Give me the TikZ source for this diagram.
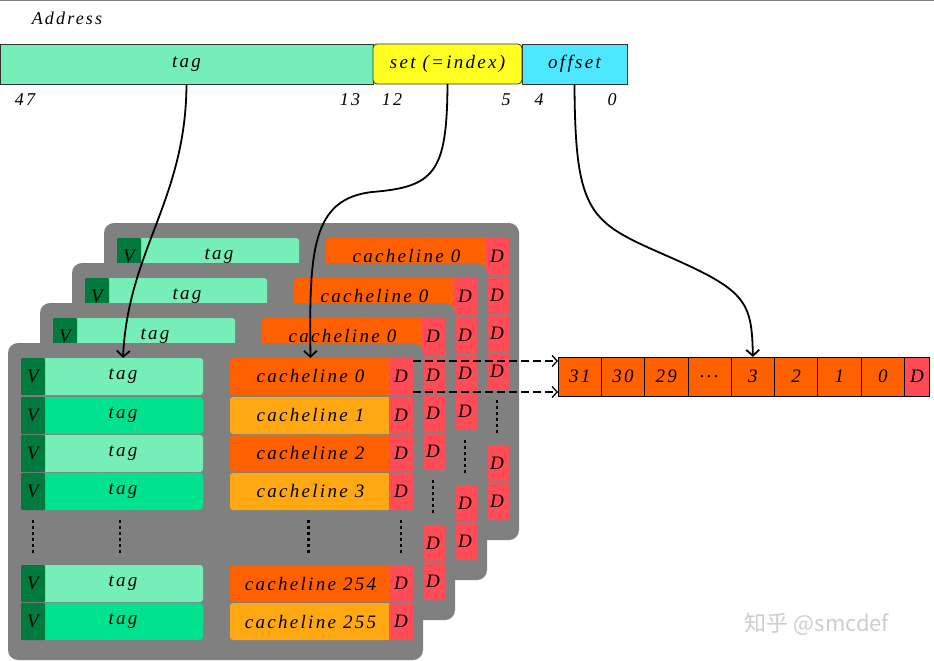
\documentclass[tikz,border=0pt]{standalone}
\usepackage{fontspec}
\newfontfamily\hand[LetterSpace=12]{Liberation Serif}
\newfontfamily\cjk{Noto Sans CJK SC}
\usetikzlibrary{arrows.meta}
\definecolor{panelgray}{RGB}{128,128,128}
\definecolor{vgreen}{RGB}{0,122,61}
\definecolor{taglight}{RGB}{118,238,183}
\definecolor{tagbright}{RGB}{0,226,142}
\definecolor{clred}{RGB}{255,96,0}
\definecolor{clamber}{RGB}{255,168,18}
\definecolor{dred}{RGB}{255,75,85}
\definecolor{setyellow}{RGB}{255,255,34}
\definecolor{offcyan}{RGB}{77,232,255}
\definecolor{wmgray}{RGB}{205,205,205}
\begin{document}
\begin{tikzpicture}[x=1pt,y=-1pt,
  every node/.style={font=\hand\itshape\fontsize{19}{22}\selectfont, inner sep=0pt, outer sep=0pt},
  panel/.style={anchor=north west, fill=panelgray, rounded corners=10pt, minimum width=415pt, minimum height=317pt},
  cellbase/.style={anchor=north west, minimum height=37pt, rounded corners=3pt},
  abar/.style={anchor=north west, minimum height=40pt, draw=black!80, line width=0.8pt},
  acell/.style={anchor=north west, minimum height=39pt, minimum width=43.3pt, fill=clred, draw=black, line width=0.8pt},
  numlab/.style={font=\hand\itshape\fontsize{18}{21}\selectfont},
  dotcol/.style={line width=2.4pt, dash pattern=on 2.5pt off 3.5pt, shorten <=10pt, shorten >=10pt},
  arr/.style={line width=1.8pt, -{Straight Barb[length=6pt,width=13pt]}},
  dasharr/.style={line width=1.3pt, dash pattern=on 8pt off 4pt, -{Straight Barb[length=5pt,width=11pt]}}]
\useasboundingbox (0,0) rectangle (934,661);
\draw[panelgray, line width=1pt] (0,0.5) -- (934,0.5);

% address
\node[numlab] (addr) at (67,18) {Address};
\node[abar, fill=taglight, minimum width=373pt] (atag) at (0,44) {tag};
\node[abar, fill=setyellow, minimum width=149pt, rounded corners=4pt] (aset) at (373,44) {set (=index)};
\node[abar, fill=offcyan, minimum width=105pt] (aoff) at (522,44) {offset};
\node[numlab] (n47) at (25,100) {47};
\node[numlab] (n13) at (350,100) {13};
\node[numlab] (n12) at (392,100) {12};
\node[numlab] (n5) at (506,100) {5};
\node[numlab] (n4) at (539,100) {4};
\node[numlab] (n0) at (612,100) {0};

% cache ways (back to front)
\foreach \L in {3,2,1,0} {
  \begin{scope}[shift={(32*\L,-40*\L)}]
    \node[panel] (P-\L) at (8,343) {};
    \foreach \r/\top/\tagc/\clc/\lab in {0/358/taglight/clred/0, 1/397/tagbright/clamber/1, 2/435/taglight/clred/2, 3/473/tagbright/clamber/3, 4/565/taglight/clred/254, 5/603/tagbright/clamber/255} {
      \ifnum\numexpr\L*\r\relax=0
        \def\mytag{tag}\def\myv{V}\def\mycl{cacheline \lab}%
      \else
        \def\mytag{}\def\myv{}\def\mycl{}%
      \fi
      \node[cellbase, fill=\tagc, minimum width=160pt] (T-\L-\r) at (43,\top) {\mytag};
      \node[cellbase, fill=vgreen, minimum width=24pt, rounded corners=1pt] (V-\L-\r) at (21,\top) {\myv};
      \node[cellbase, fill=\clc, minimum width=161pt] (C-\L-\r) at (230,\top) {\mycl};
      \node[cellbase, fill=dred, minimum width=24pt, rounded corners=1pt] (D-\L-\r) at (389,\top) {D};
    }
    \draw[dotcol] (V-\L-3.south) -- (V-\L-4.north);
    \draw[dotcol] ([xshift=-3pt]T-\L-3.south) -- ([xshift=-3pt]T-\L-4.north);
    \draw[dotcol] ([xshift=-2pt]C-\L-3.south) -- ([xshift=-2pt]C-\L-4.north);
    \draw[dotcol] (D-\L-3.south) -- (D-\L-4.north);
  \end{scope}
}

% cache line bytes
\foreach \i/\t in {0/31,1/30,2/29,3/{...},4/3,5/2,6/1,7/0} {
  \node[acell] (A\i) at (558+43.3*\i,357) {\t};
}
\node[acell, fill=dred, minimum width=25pt] (AD) at (904.4,357) {D};

% arrows
\draw[arr] (atag.south) .. controls (186,200) and (128,250) .. (T-0-0.north);
\draw[arr] (aset.south) .. controls (447,172) and (435,187) .. (372,192)
  .. controls (312,199) and (309,250) .. (C-0-0.north);
\draw[arr] (aoff.south) .. controls (575,215) and (590,222) .. (665,255)
  .. controls (745,290) and (752,300) .. (A4.north);
\draw[dasharr] ([yshift=-3pt]D-0-0.north east) -- ([yshift=-3pt]D-0-0.north east -| A0.west);
\draw[dasharr] ([yshift=3pt]D-0-0.south east) -- ([yshift=3pt]D-0-0.south east -| A0.west);

\node[font=\cjk\fontsize{22}{24}\selectfont, text=wmgray] (wm) at (817,624) {知乎 @smcdef};
\end{tikzpicture}
\end{document}
